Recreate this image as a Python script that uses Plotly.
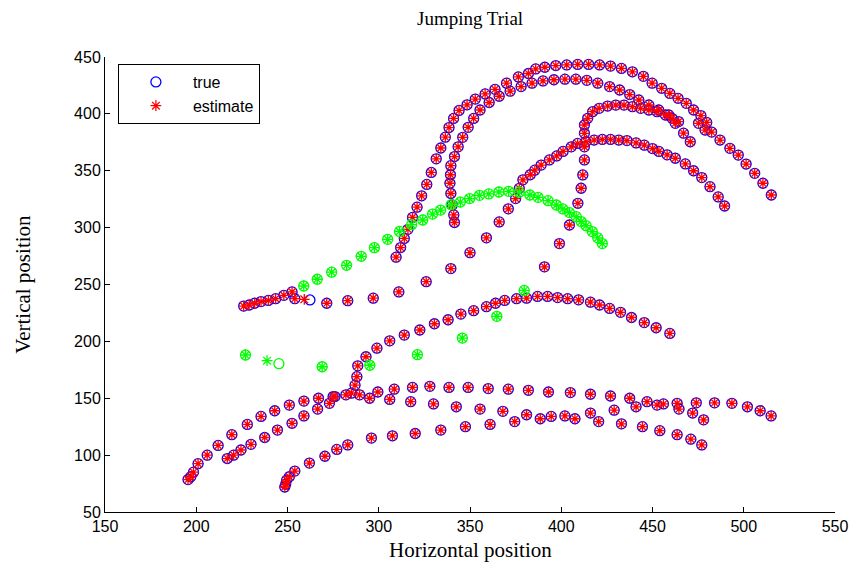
import plotly.graph_objects as go

# ---------------- data ----------------
# lower-left loop, first row
l1_x = [195.5, 197, 198.5, 201, 206, 212, 219.5, 228, 235.5, 243, 251, 259, 267, 275, 282,
        289.5, 299.5, 308.5, 318.5, 328, 338.5, 349, 360, 371, 382, 393, 405, 416, 427,
        437.5, 447, 456, 463.5, 474, 484, 493.5, 502, 509, 515]
l1_y = [78.5, 81, 85, 92.5, 100, 108.5, 118, 127, 134, 139, 144, 147.5, 150, 151.5, 153,
        153, 155.5, 158, 159.5, 160.5, 159.5, 159.5, 158.5, 158, 157, 155.5, 155, 153.5, 152,
        150, 147, 145, 145.5, 146, 146, 145.5, 142.5, 139, 134.5]
# second row, through the junction and up into the low arc
l2_x = [217, 220.5, 224.5, 230, 237.5, 244.5, 252.5, 259, 266.5, 273, 276, 285, 287, 288, 288.5,
        293, 299, 306, 314, 322.5, 330.5, 338, 345, 352, 359, 364, 369, 375.5, 381, 387,
        392.5, 398, 403.5, 409.5, 416, 421, 426.5, 432.5, 438.5, 445.5, 452, 459.5]
l2_y = [97, 100, 104.5, 109.5, 115.5, 122, 128, 134.5, 140.5, 145.5, 151.5, 154.5, 161.5, 169, 178.5,
        186.5, 194, 200.5, 205.5, 210, 215.5, 219, 224, 227, 230.5, 233.5, 236, 237.5, 238, 239.5,
        239.5, 238.5, 237.5, 236.5, 234.5, 232, 229, 225.5, 221, 216.5, 212, 207]
# row leaving the junction to the right
l4_x = [295, 306, 317.5, 330, 342.5, 355.5, 368, 381, 394.5, 402, 416, 429, 441, 452.5, 464.5, 472, 478]
l4_y = [150, 149, 147, 145, 142.5, 140.5, 138.5, 135.5, 134, 134.5, 137, 139.5, 142.5, 144, 140.5, 137, 131]
# lowest row
l3_x = [248.5, 249, 249.5, 251, 254, 262, 270.5, 277, 283, 296, 307.5, 320, 334, 347.5, 361,
        374.5, 388.5, 407.5, 420.5, 433, 444.5, 454, 463.5, 471, 477]
l3_y = [72, 74.5, 78, 81, 86, 93, 99, 105, 109, 115, 117, 119, 122, 125, 127,
        129.5, 132, 132, 129.5, 127.5, 125, 121.5, 118, 114, 109]
# upper-left start, then the arc topping near 378
u_x = [226, 229, 232, 235.5, 239.5, 243.5, 248, 252.5, 254, 262.3, 271.5, 283, 297, 311, 326,
       339.5, 350, 359, 366, 371, 375, 377, 379, 383, 385.5, 389, 393.5, 397.5, 401, 405.5,
       409, 413.5, 418, 422.5, 427, 431.5, 436, 441, 445.5, 450, 453.5, 458, 462.5, 468,
       472.5, 477, 481.5, 486, 489.5]
u_y = [231, 232, 233.5, 235, 236, 237.5, 240.5, 243.5, 237.5, 236.4, 233.5, 235.8, 238, 243.5, 252.5,
       264, 278, 291, 305, 316.5, 325.5, 334.5, 342, 346.5, 350.5, 355, 359.5, 363, 367, 371,
       374, 375.5, 377, 377.5, 377.5, 377, 376.5, 374.5, 372.5, 369.5, 367, 364, 361, 356,
       350, 344, 336, 327, 319]
u_est_x = list(u_x)
u_est_x[9] = 259.2
u_est_y = list(u_y)
u_est_y[9] = 237
# outer high arc
o_x = [309.5, 312, 314, 316, 318.5, 321, 323.5, 326.3, 328.8, 331.5, 334, 336.5, 338.5, 341, 344,
       348.4, 352.9, 358.3, 363.7, 370, 376.5, 382, 386, 391, 397, 403, 409, 415, 421, 427,
       433, 439, 445, 449.8, 455, 459.5, 464, 468.5, 472.5, 476.5, 479.7, 482.4, 487, 492.4,
       497, 501.3, 506, 510.5, 515.1]
o_y = [274, 282.5, 290.5, 298.5, 309, 318, 328, 338, 348.5, 360.5, 370, 379.5, 388, 396, 403,
       408, 413, 417.5, 421.6, 427, 432.5, 435.5, 439.5, 441, 442.5, 443, 443.5, 443.5, 443, 442,
       440, 437, 433, 427, 422.5, 418, 413.7, 409.3, 403.4, 398.5, 392.5, 384, 377, 369.7,
       363.8, 355.9, 347.7, 339, 328.7]
# inner high arc
i_x = [341.5, 341.1, 340.3, 339.5, 339, 339.3, 339.5, 341.5, 343.5, 346, 349, 352, 355.5, 360.5,
       366, 372, 378, 384, 390, 396, 402, 408, 414, 420, 426.5, 432, 437.5, 442.5, 448, 453.4,
       458.9, 462.5, 467, 470.7]
i_y = [304.5, 311.2, 320, 330, 339, 346.5, 354.5, 362.5, 371, 379.4, 388.2, 396, 403.4, 410,
       415.5, 420, 424, 427, 429, 430, 430.5, 430.5, 429.5, 427, 424, 421, 417, 412.2, 407.8, 403.4,
       399, 391.7, 383, 375.5]
# arc rising from near (391, 265)
a3_x = [390.8, 399, 404.5, 409.1, 410.9, 411.8, 412.7, 412.7, 412.7, 412.7, 414.5, 417.2, 420.8,
        425.4, 429.9, 434.4, 439, 443.5, 448, 452.5, 457.1, 460.7, 464.3, 475.2, 478.8]
a3_y = [265.5, 286, 302.3, 321.4, 334.6, 346.3, 359.5, 371, 382.9, 390.2, 396.1, 401.9, 404.9,
        406.9, 407.7, 407.7, 406.3, 404.9, 403.4, 401.9, 399, 396.1, 393.2, 391.7, 385.8]
# green object: dense arc
g1_x = [258.9, 266.3, 274.2, 282.4, 290.4, 297.6, 304.9, 311.4, 318, 324.1, 329.5, 333.9, 339.7,
        344.7, 349.8, 355.2, 360.3, 365.8, 371.2, 377, 382.8, 387.3, 392.8, 397.3, 400.9, 404.5,
        408.2, 410.9, 413.6, 417, 420, 422.5]
g1_y = [248.7, 254.6, 260.8, 266.9, 274.8, 282.4, 289.7, 296.7, 302.6, 306.7, 311.9, 315.4, 320.2,
        322.5, 325.5, 328.4, 329.6, 331.3, 331.9, 331.2, 328.7, 326.6, 323.7, 319.9, 316.4, 313.2,
        309.6, 305.3, 301.7, 296.5, 291, 286]
# green object: sparse points
g2_x = [227, 245.3, 269, 295.1, 321.2, 345.8, 364.7, 379.7]
g2_y = [188, 180.4, 177.7, 179, 188.3, 202.9, 222, 244.8]
g2_est_x = [227, 238.8, 269, 295.1, 321.2, 345.8, 364.7, 379.7]
g2_est_y = [188, 183, 177.7, 179, 188.3, 202.9, 222, 244.8]

x_ticks = [150, 200, 250, 300, 350, 400, 450, 500, 550]
y_ticks = [50, 100, 150, 200, 250, 300, 350, 400, 450]

# ---------------- figure ----------------
true_x = l1_x + l2_x + l4_x + l3_x + u_x + o_x + i_x + a3_x
true_y = l1_y + l2_y + l4_y + l3_y + u_y + o_y + i_y + a3_y
est_x = l1_x + l2_x + l4_x + l3_x + u_est_x + o_x + i_x + a3_x
est_y = l1_y + l2_y + l4_y + l3_y + u_est_y + o_y + i_y + a3_y

BLUE = "#0000FF"
RED = "#FF0000"
GREEN = "#00FF00"
MS_C = 10
MS_S = 9

fig = go.Figure()
fig.add_trace(go.Scatter(x=true_x, y=true_y, mode="markers", name="true",
                         marker=dict(symbol="circle-open", size=MS_C, color=BLUE, line=dict(width=1.3, color=BLUE))))
fig.add_trace(go.Scatter(x=est_x, y=est_y, mode="markers", name="estimate",
                         marker=dict(symbol="asterisk-open", size=MS_S, color=RED, line=dict(width=1.3, color=RED))))
fig.add_trace(go.Scatter(x=g1_x + g2_x, y=g1_y + g2_y, mode="markers", showlegend=False,
                         marker=dict(symbol="circle-open", size=MS_C, color=GREEN, line=dict(width=1.3, color=GREEN))))
fig.add_trace(go.Scatter(x=g1_x + g2_est_x, y=g1_y + g2_est_y, mode="markers", showlegend=False,
                         marker=dict(symbol="asterisk-open", size=MS_S, color=GREEN, line=dict(width=1.3, color=GREEN))))

axis_common = dict(showgrid=False, zeroline=False, showline=True, linecolor="#000000", linewidth=1,
                   ticks="inside", ticklen=5, tickcolor="#000000",
                   tickfont=dict(family="Liberation Sans, Arial, sans-serif", size=16, color="#000000"))

W, H = 860, 564
L, R, T, B = 105, 19, 57, 52
pw, ph = W - L - R, H - T - B

fig.update_layout(
    width=W, height=H,
    margin=dict(l=L, r=R, t=T, b=B),
    plot_bgcolor="white", paper_bgcolor="white",
    xaxis=dict(range=[150, 550], tickvals=x_ticks, ticktext=[str(v) for v in x_ticks], **axis_common),
    yaxis=dict(range=[50, 450], tickvals=y_ticks, ticktext=[str(v) for v in y_ticks], **axis_common),
    showlegend=True,
    legend=dict(x=(118 - L) / pw, y=1 - (64 - T) / ph, xanchor="left", yanchor="top",
                bordercolor="#000000", borderwidth=1, bgcolor="white",
                itemwidth=64,
                font=dict(family="Liberation Sans, Arial, sans-serif", size=16, color="#000000")),
)
serif = "Liberation Serif, Times New Roman, serif"
fig.add_annotation(text="Jumping Trial", xref="paper", yref="paper",
                   x=(473 - L) / pw, y=1 - (18 - T) / ph, xanchor="center", yanchor="middle",
                   showarrow=False, font=dict(family=serif, size=19, color="#000000"))
fig.add_annotation(text="Horizontal position", xref="paper", yref="paper",
                   x=(473 - L) / pw, y=1 - (550 - T) / ph, xanchor="center", yanchor="middle",
                   showarrow=False, font=dict(family=serif, size=21, color="#000000"))
fig.add_annotation(text="Vertical position", xref="paper", yref="paper",
                   x=(22 - L) / pw, y=1 - (284 - T) / ph, xanchor="center", yanchor="middle",
                   showarrow=False, textangle=-90, font=dict(family=serif, size=21, color="#000000"))

fig.write_html("out.html")
